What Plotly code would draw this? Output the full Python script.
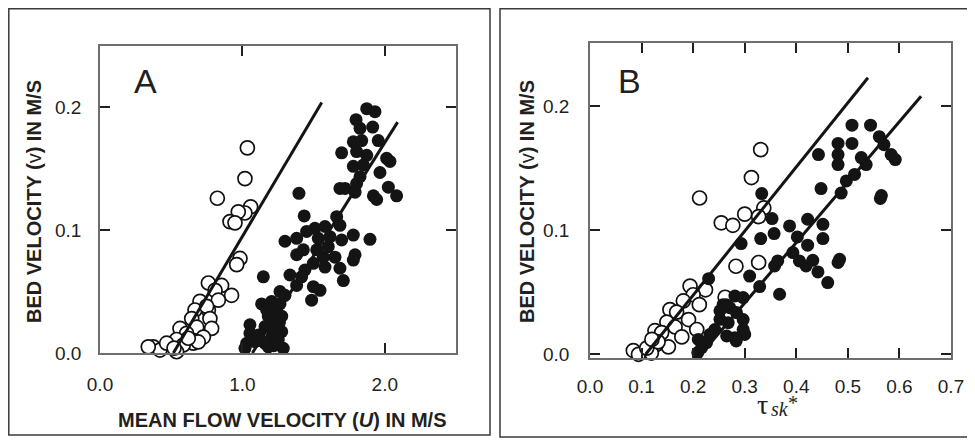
import plotly.graph_objects as go

# ---------------- Panel A data ----------------
a_open_x = [1.035, 1.018, 0.824, 1.058, 1.018, 0.971, 0.913, 0.948, 0.983, 0.960,
            0.761, 0.854, 0.808, 0.924, 0.831, 0.702, 0.667, 0.761, 0.749, 0.772,
            0.644, 0.784, 0.679, 0.562, 0.608, 0.726, 0.538, 0.655, 0.585, 0.374,
            0.421, 0.538, 0.468, 0.339, 0.690, 0.620, 0.520]
a_open_y = [0.167, 0.142, 0.126, 0.119, 0.114, 0.115, 0.107, 0.106, 0.077, 0.072,
            0.057, 0.055, 0.051, 0.047, 0.043, 0.042, 0.035, 0.035, 0.038, 0.028,
            0.028, 0.020, 0.021, 0.020, 0.016, 0.013, 0.011, 0.008, 0.0065, 0.005,
            0.0024, 0.001, 0.008, 0.005, 0.009, 0.012, 0.004]

a_fill_x = [1.873, 1.931, 1.798, 1.826, 1.915, 1.954, 1.779, 1.838, 1.697, 1.802,
            1.873, 2.013, 2.036, 1.779, 1.849, 1.966, 1.826, 1.802, 1.685, 1.721,
            1.791, 2.025, 2.083, 1.920, 1.943, 1.662, 1.685, 1.580, 1.779, 1.896,
            1.697, 1.615, 1.603, 1.791, 1.779, 1.650, 1.685, 1.709, 1.568, 1.580,
            1.397, 1.434, 1.509, 1.451, 1.299, 1.381, 1.381, 1.428, 1.522, 1.439,
            1.498, 1.147, 1.334, 1.416, 1.381, 1.498, 1.545, 1.486, 1.264, 1.299,
            1.135, 1.206, 1.264, 1.241, 1.182, 1.276, 1.229, 1.053, 1.159, 1.276,
            1.053, 1.112, 1.206, 1.030, 1.159, 1.088, 1.252, 1.018, 1.287, 1.182,
            1.200, 1.240, 1.130, 1.220, 1.260, 1.170, 1.533]
a_fill_y = [0.199, 0.1965, 0.190, 0.183, 0.184, 0.173, 0.172, 0.173, 0.163, 0.164,
            0.161, 0.1585, 0.156, 0.152, 0.153, 0.147, 0.1436, 0.138, 0.134, 0.134,
            0.131, 0.135, 0.128, 0.128, 0.125, 0.111, 0.104, 0.103, 0.096, 0.0926,
            0.092, 0.0947, 0.0866, 0.080, 0.0757, 0.078, 0.069, 0.059, 0.078, 0.070,
            0.130, 0.1116, 0.1015, 0.099, 0.091, 0.0934, 0.080, 0.084, 0.084, 0.0676,
            0.073, 0.062, 0.0635, 0.062, 0.055, 0.054, 0.051, 0.043, 0.050, 0.047,
            0.040, 0.042, 0.040, 0.034, 0.030, 0.030, 0.024, 0.023, 0.0215, 0.0174,
            0.016, 0.0147, 0.013, 0.0079, 0.0079, 0.0092, 0.0106, 0.0038, 0.0038, 0.005,
            0.020, 0.015, 0.010, 0.006, 0.025, 0.035, 0.0934]

a_line_open_x = [0.515, 1.557]
a_line_open_y = [0.0, 0.204]
a_line_fill_x = [1.07, 2.09]
a_line_fill_y = [0.0, 0.188]

# ---------------- Panel B data ----------------
b_open_x = [0.331, 0.313, 0.2125, 0.337, 0.300, 0.327, 0.2545, 0.277, 0.283, 0.327,
            0.194, 0.224, 0.200, 0.262, 0.181, 0.212, 0.155, 0.168, 0.191, 0.149,
            0.165, 0.207, 0.126, 0.139, 0.178, 0.152, 0.129, 0.084, 0.094, 0.119,
            0.110, 0.132, 0.120]
b_open_y = [0.165, 0.1425, 0.126, 0.118, 0.113, 0.111, 0.106, 0.104, 0.071, 0.074,
            0.055, 0.052, 0.048, 0.046, 0.043, 0.040, 0.036, 0.034, 0.028, 0.026,
            0.022, 0.020, 0.019, 0.0175, 0.014, 0.006, 0.008, 0.003, 0.0, 0.001,
            0.005, 0.010, 0.012]

b_fill_x = [0.508, 0.544, 0.481, 0.508, 0.561, 0.570, 0.443, 0.481, 0.481, 0.526,
            0.5355, 0.584, 0.592, 0.513, 0.497, 0.448, 0.487, 0.563, 0.565, 0.333,
            0.353, 0.422, 0.4516, 0.387, 0.357, 0.402, 0.4516, 0.331, 0.293, 0.422,
            0.3934, 0.364, 0.406, 0.432, 0.419, 0.442, 0.484, 0.481, 0.461, 0.3676,
            0.329, 0.3095, 0.358, 0.230, 0.281, 0.297, 0.258, 0.271, 0.252, 0.284,
            0.252, 0.268, 0.297, 0.297, 0.242, 0.2326, 0.265, 0.281, 0.300, 0.210,
            0.226, 0.2165, 0.209, 0.2835, 0.264]
b_fill_y = [0.1847, 0.1847, 0.170, 0.170, 0.1755, 0.169, 0.161, 0.161, 0.153, 0.1586,
            0.153, 0.161, 0.157, 0.145, 0.1398, 0.1336, 0.130, 0.1256, 0.128, 0.1296,
            0.1094, 0.1089, 0.1048, 0.1035, 0.0973, 0.0946, 0.0933, 0.0933, 0.0893, 0.088,
            0.082, 0.0753, 0.0753, 0.0758, 0.0712, 0.0664, 0.0766, 0.074, 0.0578, 0.0484,
            0.0546, 0.0631, 0.0712, 0.061, 0.047, 0.0457, 0.040, 0.0376, 0.035, 0.0336,
            0.0282, 0.0255, 0.028, 0.020, 0.020, 0.016, 0.0148, 0.0134, 0.016, 0.012,
            0.0094, 0.0054, 0.0014, 0.0107, 0.040]

b_line_open_x = [0.108, 0.539]
b_line_open_y = [0.0, 0.223]
b_line_fill_x = [0.215, 0.642]
b_line_fill_y = [0.0, 0.208]

a_xticks = [0.0, 1.0, 2.0]
a_xticktext = ["0.0", "1.0", "2.0"]
yticks = [0.0, 0.1, 0.2]
yticktext = ["0.0", "0.1", "0.2"]
b_xticks = [0.0, 0.1, 0.2, 0.3, 0.4, 0.5, 0.6, 0.7]
b_xticktext = ["0.0", "0.1", "0.2", "0.3", "0.4", "0.5", "0.6", "0.7"]

# page has an 8px body margin: figure placed at (8, 8) within the 975x441 window
OFF = 8
FW, FH = 975 - OFF, 441 - OFF


def px(x):
    return (x - OFF) / FW


def py(y):
    return 1 - (y - OFF) / FH


INK = "#231f20"

open_marker = dict(symbol="circle", size=14, color="white", line=dict(color="#111111", width=1.7))
fill_marker = dict(symbol="circle", size=13, color="#141414", line=dict(width=0))
line_style = dict(color="#141414", width=3)

fig = go.Figure()
for xa, ya, ox, oy, lx1, ly1, fx, fy, lx2, ly2 in [
    ("x", "y", a_open_x, a_open_y, a_line_open_x, a_line_open_y, a_fill_x, a_fill_y, a_line_fill_x, a_line_fill_y),
    ("x2", "y2", b_open_x, b_open_y, b_line_open_x, b_line_open_y, b_fill_x, b_fill_y, b_line_fill_x, b_line_fill_y),
]:
    fig.add_trace(go.Scatter(x=ox, y=oy, mode="markers", marker=open_marker, xaxis=xa, yaxis=ya, showlegend=False, cliponaxis=False))
    fig.add_trace(go.Scatter(x=lx1, y=ly1, mode="lines", line=line_style, xaxis=xa, yaxis=ya, showlegend=False))
    fig.add_trace(go.Scatter(x=fx, y=fy, mode="markers", marker=fill_marker, xaxis=xa, yaxis=ya, showlegend=False, cliponaxis=False))
    fig.add_trace(go.Scatter(x=lx2, y=ly2, mode="lines", line=line_style, xaxis=xa, yaxis=ya, showlegend=False))

tickfont = dict(family="Liberation Sans, Arial, sans-serif", size=19, color=INK)
common = dict(showgrid=False, zeroline=False, showline=True, linecolor="#6d6e71", linewidth=1.5,
              mirror="ticks", ticks="inside", ticklen=10, tickwidth=1.5, tickcolor=INK,
              tickfont=tickfont, automargin=False)

fig.update_layout(
    width=FW, height=FH, margin=dict(l=0, r=0, t=0, b=0, autoexpand=False),
    paper_bgcolor="white", plot_bgcolor="white",
    xaxis=dict(domain=[px(100), px(456)], range=[0, 2.5], tickvals=a_xticks, ticktext=a_xticktext,
               anchor="y", ticklabelstandoff=13, **common),
    yaxis=dict(domain=[py(353), py(46)], range=[0, 0.25], tickvals=yticks, ticktext=yticktext,
               anchor="x", ticklabelstandoff=13, **common),
    xaxis2=dict(domain=[px(590), px(951)], range=[0, 0.7], tickvals=b_xticks, ticktext=b_xticktext,
                anchor="y2", ticklabelstandoff=10, **common),
    yaxis2=dict(domain=[py(358), py(43)], range=[-0.003, 0.251], tickvals=yticks, ticktext=yticktext,
                anchor="x2", ticklabelstandoff=15, **common),
)

# panel frames
fig.add_shape(type="rect", xref="paper", yref="paper", x0=px(8.8), x1=px(490), y0=py(435), y1=py(8.8),
              line=dict(color="#3a3a3a", width=1.5), layer="below")
fig.add_shape(type="rect", xref="paper", yref="paper", x0=px(500), x1=px(972), y0=py(437), y1=py(8.8),
              line=dict(color="#3a3a3a", width=1.5), layer="below")

sans = "Liberation Sans, Arial, sans-serif"
serif = "Liberation Serif, Times New Roman, serif"
titlefont = dict(family=sans, size=20, color=INK)
ann = [
    dict(text="<b>MEAN FLOW VELOCITY (<i>U</i>) IN M/S</b>", x=px(282), y=py(419.5), font=titlefont),
    dict(text="<b>BED VELOCITY (</b>v<b>) IN M/S</b>", x=px(34), y=py(202), font=titlefont, textangle=-90),
    dict(text="<b>BED VELOCITY (</b>v<b>) IN M/S</b>", x=px(527), y=py(202), font=titlefont, textangle=-90),
    dict(text="τ", x=px(762), y=py(404), font=dict(family=serif, size=28, color=INK)),
    dict(text="<i>sk</i>", x=px(780), y=py(409), font=dict(family=serif, size=20, color=INK)),
    dict(text="*", x=px(793), y=py(403), font=dict(family=serif, size=20, color=INK)),
    dict(text="A", x=px(145.5), y=py(80.5), font=dict(family=sans, size=34, color=INK)),
    dict(text="B", x=px(629), y=py(80.5), font=dict(family=sans, size=34, color=INK)),
]
for a in ann:
    fig.add_annotation(xref="paper", yref="paper", showarrow=False, xanchor="center", yanchor="middle", **a)

fig.write_html("out.html")
